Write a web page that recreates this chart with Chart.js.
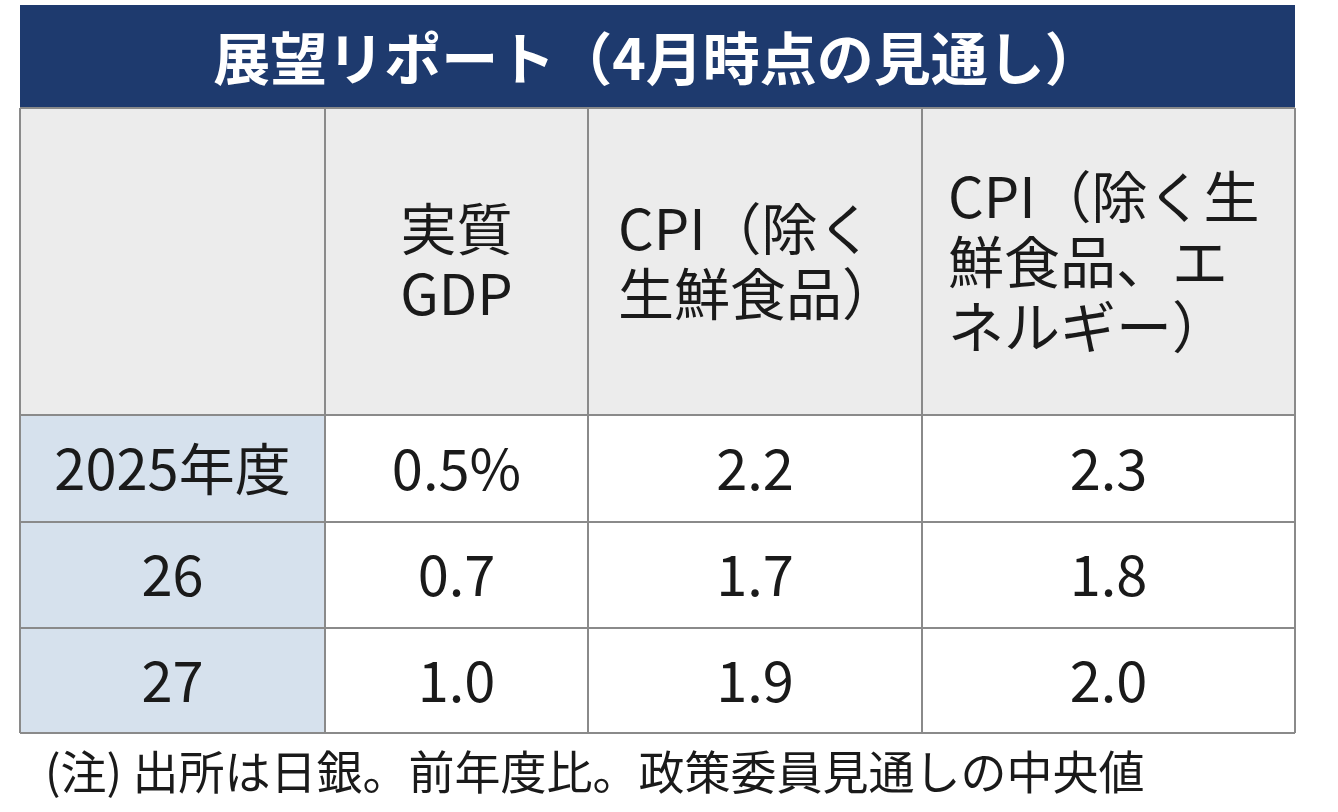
<!DOCTYPE html>
<html><head><meta charset="utf-8">
<script src="https://cdn.jsdelivr.net/npm/chart.js@4"></script>
<style>html,body{margin:0;background:#fff}#wrap{width:1338px;height:812px}</style>
</head><body><div id="wrap"><canvas id="c"></canvas></div>
<script>
const title = '展望リポート（4月時点の見通し）';
const headers = [[], ['実質', 'GDP'], ['CPI（除く', '生鮮食品）'], ['CPI（除く生', '鮮食品、エ', 'ネルギー）']];
const years = ['2025年度', '26', '27'];
const gdp = ['0.5%', '0.7', '1.0'];
const cpiCore = ['2.2', '1.7', '1.9'];
const cpiCoreCore = ['2.3', '1.8', '2.0'];
const note = '(注) 出所は日銀。前年度比。政策委員見通しの中央値';

// layout (column / row sizes in scale units)
const colW = [305, 263, 334, 373];
const rowH = [307, 107, 106, 105];
const cum = a => a.reduce((r, v) => (r.push(r[r.length - 1] + v), r), [0]);
const colE = cum(colW), rowE = cum(rowH);
const FONT = '"Noto Sans CJK JP", "Noto Sans", sans-serif';

const tablePlugin = {
  id: 'table',
  afterDraw(chart) {
    const { ctx, scales: { x, y }, chartArea: a } = chart;
    const px = v => x.getPixelForValue(v), py = v => y.getPixelForValue(v);
    ctx.save();
    // title bar
    ctx.fillStyle = '#1e3a6e';
    ctx.fillRect(a.left, 5, a.right - a.left, a.top - 5);
    ctx.fillStyle = '#fff';
    ctx.font = 'bold 57px ' + FONT;
    ctx.textAlign = 'center'; ctx.textBaseline = 'middle';
    ctx.fillText(title, (a.left + a.right) / 2, (a.top + 5) / 2 + 2);
    // cells
    const cols = [years, gdp, cpiCore, cpiCoreCore];
    for (let c = 0; c < 4; c++) {
      for (let r = 0; r < 4; r++) {
        const x0 = px(colE[c]), x1 = px(colE[c + 1]), y0 = py(rowE[r]), y1 = py(rowE[r + 1]);
        ctx.fillStyle = r === 0 ? '#ececec' : (c === 0 ? '#d6e1ed' : '#ffffff');
        ctx.fillRect(x0, y0, x1 - x0, y1 - y0);
        ctx.fillStyle = '#1a1a1a';
        ctx.font = '56px ' + FONT;
        if (r === 0) {
          const lines = headers[c];
          const lh = 65, mid = (y0 + y1) / 2;
          lines.forEach((t, i) => {
            const ty = mid + (i - (lines.length - 1) / 2) * lh;
            if (c === 1) { ctx.textAlign = 'center'; ctx.fillText(t, (x0 + x1) / 2, ty); }
            else { ctx.textAlign = 'left'; ctx.fillText(t, x0 + (c === 2 ? 30 : 26), ty); }
          });
        } else {
          ctx.textAlign = 'center';
          ctx.fillText(cols[c][r - 1], (x0 + x1) / 2, (y0 + y1) / 2);
        }
      }
    }
    // grid lines
    ctx.strokeStyle = '#8a8a8a'; ctx.lineWidth = 2;
    ctx.beginPath();
    colE.forEach(v => { ctx.moveTo(px(v), a.top); ctx.lineTo(px(v), a.bottom); });
    rowE.forEach(v => { ctx.moveTo(a.left, py(v)); ctx.lineTo(a.right, py(v)); });
    ctx.stroke();
    // note
    ctx.fillStyle = '#1a1a1a'; ctx.font = '46px ' + FONT;
    ctx.textAlign = 'left'; ctx.textBaseline = 'middle';
    ctx.fillText(note, 45, 772);
    ctx.restore();
  }
};

new Chart(document.getElementById('c'), {
  type: 'scatter',
  data: { datasets: [{ data: [] }] },
  options: {
    responsive: true, maintainAspectRatio: false, animation: false,
    layout: { padding: { left: 20, right: 43, top: 108, bottom: 79 } },
    plugins: { legend: { display: false }, tooltip: { enabled: false } },
    scales: {
      x: { type: 'linear', min: 0, max: colE[colE.length - 1], display: false },
      y: { type: 'linear', min: 0, max: rowE[rowE.length - 1], reverse: true, display: false }
    }
  },
  plugins: [tablePlugin]
});
</script></body></html>
